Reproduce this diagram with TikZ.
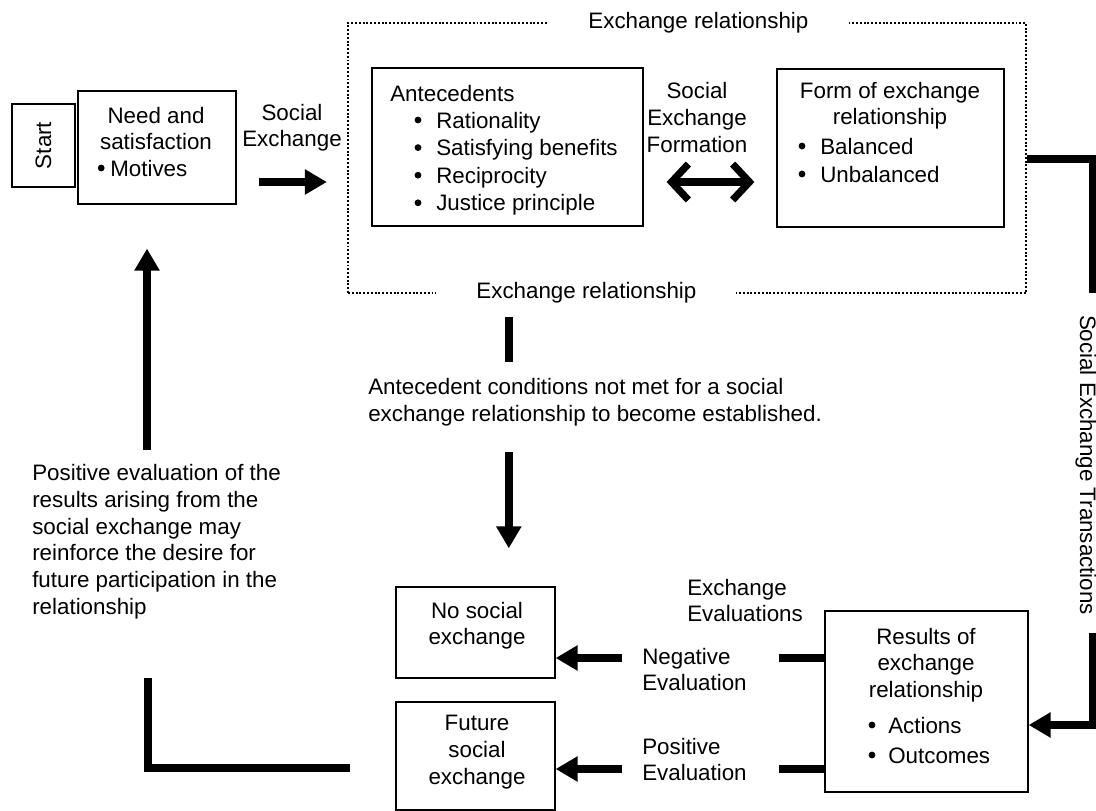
\documentclass[tikz,border=0pt]{standalone}
\usepackage{fontspec}
\setmainfont{Liberation Sans}
\setsansfont{Liberation Sans}
\usepackage{tikz}
\usetikzlibrary{arrows.meta, positioning, calc}
\tikzset{
  lbl/.style={font=\fontsize{15.9}{19}\selectfont, inner sep=0pt},
  box/.style={draw, line width=0.9pt, inner sep=0pt},
  frame/.style={draw, line width=1.6pt, dash pattern=on 1.4pt off 1.3pt, inner sep=0pt},
  gaplbl/.style={lbl, fill=white, inner xsep=1cm, inner ysep=3pt},
  fat/.style={line width=0.2cm},
  fatarrow/.style={line width=0.2cm, -{Triangle[length=0.55cm, width=0.6cm]}},
  dbl/.style={line width=0.18cm, {Straight Barb[length=0.42cm, width=0.9cm]}-{Straight Barb[length=0.42cm, width=0.9cm]}},
}

\begin{document}
\begin{tikzpicture}[x=1cm, y=1cm,
  it/.style={lbl, anchor=west, text height=11.4pt, text depth=0pt},
  para/.style={lbl, anchor=west, align=left}]
  \useasboundingbox (0,0) rectangle (27.4,-20.275);
  % exchange relationship frame
  \node[frame, minimum width=16.95cm, minimum height=6.75cm] (frame) at (17.175,-3.95) {};
  \node[gaplbl] (toplbl) at (17.46,-0.575) {Exchange relationship};
  \node[gaplbl] (botlbl) at (14.66,-7.325) {Exchange relationship};
  % top row
  \node[box, lbl, rotate=90, minimum width=2.075cm, minimum height=1.575cm] (start) at (1.0875,-3.6375) {Start};
  \node[box, minimum width=3.95cm, minimum height=2.825cm] (need) at (3.925,-3.6875) {};
  \node[lbl, align=center] (needtxt) at (3.9,-3.21) {Need and\\satisfaction};
  \fill (2.53,-4.2) circle (0.085); \node[it] (motives) at (2.75,-4.2) {Motives};
  \node[lbl, align=center] (sxlbl) at (7.3,-3.19) {Social\\Exchange};
  \coordinate (rowy) at (0,-4.55);
  \draw[fatarrow, shorten <=0.55cm, shorten >=0.5cm] (need.east |- rowy) -- (frame.west |- rowy);
  \node[box, minimum width=6.775cm, minimum height=3.95cm] (ante) at (12.6875,-3.675) {};
  \node[it] (antehd) at (9.75,-2.325) {Antecedents};
  \foreach \t [count=\k] in {Rationality, Satisfying benefits, Reciprocity, Justice principle}
    { \fill (10.45,-2.31-\k*0.69) circle (0.085); \node[it] (ante\k) at (10.9,-2.31-\k*0.69) {\t}; }
  \node[lbl, align=center] (sef) at (17.425,-2.94) {Social\\Exchange\\Formation};
  \node[box, minimum width=5.675cm, minimum height=3.95cm] (form) at (22.2625,-3.7) {};
  \node[lbl, align=center] (formhd) at (22.25,-2.64) {Form of exchange\\relationship};
  \foreach \t [count=\k] in {Balanced, Unbalanced}
    { \fill (20.05,-2.95-\k*0.7) circle (0.085); \node[it] (form\k) at (20.5,-2.95-\k*0.7) {\t}; }
  \draw[dbl, shorten <=0.575cm, shorten >=0.55cm] (ante.east |- rowy) -- (form.west |- rowy);
  % transactions down the right edge
  \coordinate (tr) at (27.325,-3.975);
  \coordinate (trb) at (27.325,-7.325);
  \draw[fat] (frame.east |- tr) -- (tr) -- (trb);
  \node[lbl, rotate=-90] (setlbl) at (27.15,-11.625) {Social Exchange Transactions};
  \coordinate (brt) at (27.325,-15.825);
  \coordinate (acty) at (0,-18.125);
  % antecedents not met
  \coordinate (cs1) at (12.72,-7.925);
  \coordinate (cs2) at (12.72,-9.05);
  \draw[fat] (cs1) -- (cs2);
  \node[para] (notmet) at (9.2,-10.05) {Antecedent conditions not met for a social\\exchange relationship to become established.};
  \coordinate (ca) at (12.72,-11.3);
  % bottom row
  \node[box, minimum width=3.975cm, minimum height=2.275cm] (nosx) at (11.8875,-15.8125) {};
  \node[lbl, align=center] (nosxtxt) at (11.925,-15.64) {No social\\exchange};
  \node[box, minimum width=3.975cm, minimum height=2.7cm] (future) at (11.8875,-18.9) {};
  \node[lbl, align=center] (futtxt) at (11.925,-18.8) {Future\\social\\exchange};
  \node[box, minimum width=5.075cm, minimum height=4.525cm] (results) at (23.1625,-17.5375) {};
  \node[lbl, align=center] (restxt) at (23.15,-16.63) {Results of\\exchange\\relationship};
  \foreach \t [count=\k] in {Actions, Outcomes}
    { \fill (21.8,-17.375-\k*0.75) circle (0.085); \node[it] (res\k) at (22.2,-17.375-\k*0.75) {\t}; }
  \draw[fatarrow] (brt) |- (results.east |- acty);
  \draw[fatarrow, shorten >=0.95cm] (ca) -- (ca |- nosx.north);
  \node[para] (evalhd) at (17.175,-15.01) {Exchange\\Evaluations};
  \node[para] (neglbl) at (16.05,-16.74) {Negative\\Evaluation};
  \node[para] (poslbl) at (16.05,-18.99) {Positive\\Evaluation};
  \coordinate (ny) at (0,-16.45);
  \coordinate (py) at (0,-19.225);
  \draw[fatarrow, shorten <=0.5cm] (neglbl.west |- ny) -- (nosx.east |- ny);
  \draw[fatarrow, shorten <=0.5cm] (poslbl.west |- py) -- (future.east |- py);
  \draw[fat] (results.west |- ny) -- ++(-1.125,0);
  \draw[fat] (results.west |- py) -- ++(-1.125,0);
  % feedback loop on the left
  \node[para] (posnote) at (0.8,-13.54) {Positive evaluation of the\\results arising from the\\social exchange may\\reinforce the desire for\\future participation in the\\relationship};
  \coordinate (lu) at (3.675,-11.25);
  \draw[fatarrow, shorten >=1.1cm] (lu) -- (lu |- need.south);
  \coordinate (ll1) at (3.7,-16.95);
  \coordinate (ll2) at (3.7,-19.2);
  \coordinate (ll3) at (8.75,-19.2);
  \draw[fat] (ll1) -- (ll2) -- (ll3);
\end{tikzpicture}
\end{document}
